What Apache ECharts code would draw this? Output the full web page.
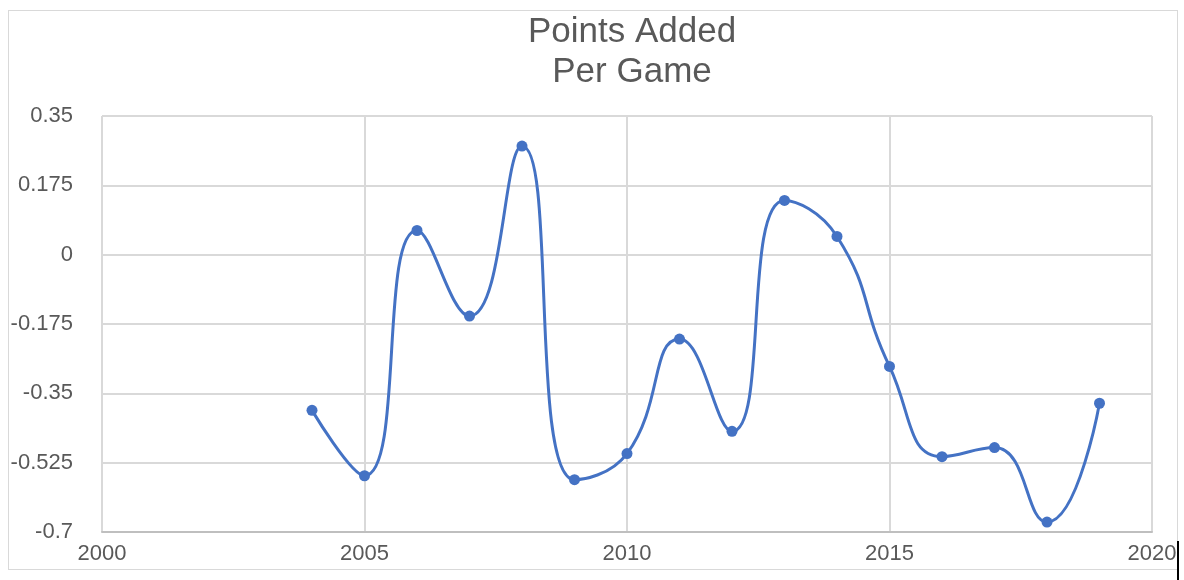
<!DOCTYPE html>
<html><head><meta charset="utf-8">
<script src="https://cdn.jsdelivr.net/npm/echarts@6/dist/echarts.min.js"></script>
<style>
html,body{margin:0;padding:0;background:#fff;}
#frame{position:absolute;left:8px;top:10px;width:1170px;height:560px;border:1.5px solid #d9d9d9;box-sizing:border-box;}
#c{position:absolute;left:0;top:0;width:1184px;height:580px;}
</style></head>
<body>
<div id="frame"></div>
<div id="c"></div>
<script>
const years = [2004,2005,2006,2007,2008,2009,2010,2011,2012,2013,2014,2015,2016,2017,2018,2019];
const values = [-0.393,-0.558,0.061,-0.155,0.274,-0.568,-0.502,-0.213,-0.446,0.137,0.046,-0.282,-0.510,-0.487,-0.675,-0.375];
const titleLines = ['Points Added','Per Game'];

const chart = echarts.init(document.getElementById('c'), null, {renderer:'canvas'});
const fmt = v => { const r = Math.round(v*1000)/1000; return String(r); };
const FONT = 'Liberation Sans, Arial, Helvetica, sans-serif';
chart.setOption({
  animation:false,
  backgroundColor:'transparent',
  title:{
    text: titleLines.join('\n'),
    left: 627, top: 7, textAlign:'center',
    textStyle:{fontFamily:FONT,fontSize:35,fontWeight:'normal',color:'#595959',lineHeight:40}
  },
  grid:{left:102,right:32,top:116,bottom:48,containLabel:false},
  xAxis:{
    type:'value',min:2000,max:2020,interval:5,
    axisLine:{show:true,onZero:false,lineStyle:{color:'#bfbfbf',width:2}},
    axisTick:{show:false},
    splitLine:{show:true,lineStyle:{color:'#d9d9d9',width:2}},
    axisLabel:{color:'#595959',fontSize:22,margin:11,fontFamily:FONT,formatter:v=>String(v)}
  },
  yAxis:{
    type:'value',min:-0.7,max:0.35,interval:0.175,
    axisLine:{show:false},
    axisTick:{show:false},
    splitLine:{show:true,lineStyle:{color:'#d9d9d9',width:2}},
    axisLabel:{color:'#595959',fontSize:22,margin:29,fontFamily:FONT,formatter:fmt}
  },
  graphic:[
    {type:'line',shape:{x1:102,y1:116,x2:102,y2:532},style:{stroke:'#d9d9d9',lineWidth:2},z:-1},
    {type:'line',shape:{x1:1178,y1:541,x2:1178,y2:580},style:{stroke:'#000',lineWidth:2}}
  ],
  series:[{
    type:'line',
    data: years.map((y,i)=>[y,values[i]]),
    smooth:0.5,
    symbol:'circle',symbolSize:11,
    lineStyle:{color:'#4472c4',width:3},
    itemStyle:{color:'#4472c4'}
  }]
});
</script>
</body></html>
